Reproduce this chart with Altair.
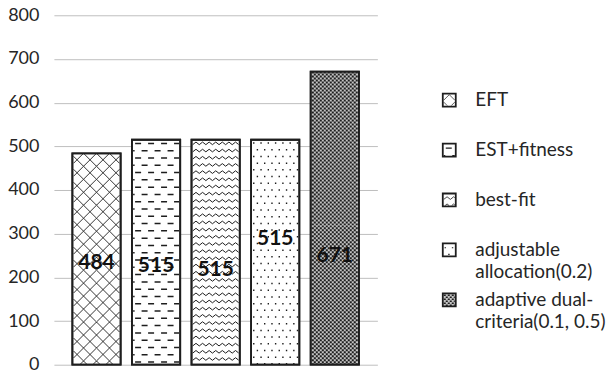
import math

import altair as alt
import pandas as pd

# ---- data -------------------------------------------------------------
CATEGORIES = [
    "EFT",
    "EST+fitness",
    "best-fit",
    "adjustable allocation(0.2)",
    "adaptive dual-criteria(0.1, 0.5)",
]
VALUES = [484, 515, 515, 515, 671]
LEGEND_TEXT = [
    "EFT",
    "EST+fitness",
    "best-fit",
    "adjustable\nallocation(0.2)",
    "adaptive dual-\ncriteria(0.1, 0.5)",
]
Y_TICKS = [0, 100, 200, 300, 400, 500, 600, 700, 800]

# ---- styling ----------------------------------------------------------
DARK = "#1e1e1e"
TEXT = "#262626"
FONT = "Lato"
Y_MAX = 800
PLOT_W, PLOT_H = 324, 350
PX = PLOT_H / Y_MAX              # pixels per data unit
TEX_W = 46                       # texture width inside a bar
LABEL_AT = [0.48, 0.44, 0.42, 0.56, 0.37]   # where each value label sits, as share of bar height
BAR_FILL = ["white", "white", "white", "white", "#c4c4c4"]


def clip_seg(x0, y0, x1, y1, w, h):
    """Liang-Barsky clipping of a segment to the box [0,w]x[0,h]."""
    dx, dy = x1 - x0, y1 - y0
    t0, t1 = 0.0, 1.0
    for p, q in ((-dx, x0), (dx, w - x0), (-dy, y0), (dy, h - y0)):
        if p == 0:
            if q < 0:
                return None
        else:
            t = q / p
            if p < 0:
                if t > t1:
                    return None
                t0 = max(t0, t)
            else:
                if t < t0:
                    return None
                t1 = min(t1, t)
    if t1 - t0 < 1e-9:
        return None
    return (x0 + t0 * dx, y0 + t0 * dy, x0 + t1 * dx, y0 + t1 * dy)


# fill patterns: each returns segments for one vertical period of the tile
def cross_segs(w, p=13.0):
    segs = []
    n = int((w + 4 * p) / p) + 2
    phase = (w / 2) % p
    for k in range(-n, n + 1):
        c = k * p + phase
        segs.append((c - p, -p, c + 2 * p, 2 * p))
        segs.append((c + p, -p, c - 2 * p, 2 * p))
    return segs


def dash_segs(w, row=7.3, period=13.0, length=6.0):
    segs = []
    for r in range(2):
        y = row * (r + 0.5)
        x = -period + r * period / 2 + 2
        while x < w + period:
            segs.append((x, y, x + length, y))
            x += period
    return segs


def wave_segs(w, h=7.2, half=3.3, amp=1.3):
    pts = []
    x, i = -half, 0
    while x < w + 2 * half:
        pts.append((x, h / 2 + (amp if i % 2 else -amp)))
        x += half
        i += 1
    return [(a[0], a[1], b[0], b[1]) for a, b in zip(pts, pts[1:])]


def dot_segs(w, row=6.7, period=7.3, d=1.4):
    segs = []
    for r in range(2):
        y = row * (r + 0.5)
        x = 1.5 + r * period / 2
        while x < w:
            segs.append((x - d / 2, y, x + d / 2, y))
            x += period
    return segs


def checker_segs(w, cell=2.0):
    segs = []
    for r in range(2):
        y = cell * (r + 0.5)
        x = r * cell
        while x < w:
            segs.append((x, y, x + cell, y))
            x += 2 * cell
    return segs


# (segment generator, vertical period in px, stroke width)
PATTERNS = [
    (cross_segs, 13.0, 0.9),
    (dash_segs, 14.6, 1.5),
    (wave_segs, 7.2, 1.0),
    (dot_segs, 13.4, 1.5),
    (checker_segs, 4.0, 2.0),
]


def glyph(pattern, w, h):
    fn, py, _ = pattern
    base = fn(w)
    segs = []
    k = 0
    while k * py < h:
        segs += [(a, b + k * py, c, d + k * py) for a, b, c, d in base]
        k += 1
    half = w / 2
    parts = []
    for s in segs:
        cs = clip_seg(*s, w, h)
        if cs is None:
            continue
        x0, y0, x1, y1 = cs
        parts.append(
            f"M{(x0 - w / 2) / half:.4f},{(y0 - h / 2) / half:.4f}"
            f"L{(x1 - w / 2) / half:.4f},{(y1 - h / 2) / half:.4f}"
        )
    return "".join(parts)


# ---- tables -----------------------------------------------------------
bars_df = pd.DataFrame({
    "category": CATEGORIES,
    "value": VALUES,
    "fill": BAR_FILL,
    "label_y": [v * f for v, f in zip(VALUES, LABEL_AT)],
})

tex_rows = []
for cat, val, pat in zip(CATEGORIES, VALUES, PATTERNS):
    _, py, sw = pat
    g = glyph(pat, TEX_W, py)
    n = math.ceil(val * PX / py) + 1
    for j in range(n):
        tex_rows.append({
            "category": cat,
            "y": val - (j + 0.5) * py / PX,
            "glyph": g,
            "sw": sw,
        })
tex_df = pd.DataFrame(tex_rows)

legend_df = pd.DataFrame({
    "category": CATEGORIES,
    "text": LEGEND_TEXT,
    "fill": BAR_FILL,
    "glyph": [glyph(p, 11, 11) for p in PATTERNS],
    "sw": [p[2] * 0.8 for p in PATTERNS],
})

# ---- bar panel --------------------------------------------------------
x_enc = alt.X(
    "category:N", sort=CATEGORIES, axis=None,
    scale=alt.Scale(paddingInner=0.19, paddingOuter=0.31),
)
y_axis = alt.Axis(
    values=Y_TICKS, title=None, ticks=False, domain=False,
    grid=True, gridColor="#bfbfbf", gridWidth=1,
    labelPadding=15, labelFont=FONT, labelFontSize=18, labelColor=TEXT,
)
y_scale = alt.Scale(domain=[0, Y_MAX])

bars = alt.Chart(bars_df).mark_bar(stroke=DARK, strokeWidth=1.8).encode(
    x=x_enc,
    y=alt.Y("value:Q", scale=y_scale, axis=y_axis),
    fill=alt.Fill("fill:N", scale=None),
)

texture = alt.Chart(tex_df).mark_point(
    filled=False, color=DARK, opacity=1, clip=True
).encode(
    x=alt.X("category:N", sort=CATEGORIES),
    y=alt.Y("y:Q", title=None),
    shape=alt.Shape("glyph:N", scale=None),
    size=alt.value(TEX_W * TEX_W),
    strokeWidth=alt.StrokeWidth("sw:Q", scale=None),
)

outline = alt.Chart(bars_df).mark_bar(
    stroke=DARK, strokeWidth=1.8, fillOpacity=0
).encode(
    x=alt.X("category:N", sort=CATEGORIES),
    y=alt.Y("value:Q", title=None),
)

labels = alt.Chart(bars_df).mark_text(
    font=FONT, fontSize=21, fontWeight="bold", color="#111111", baseline="middle"
).encode(
    x=alt.X("category:N", sort=CATEGORIES),
    y=alt.Y("label_y:Q", title=None),
    text=alt.Text("value:Q"),
)

bar_panel = alt.layer(bars, texture, outline, labels).properties(
    width=PLOT_W, height=PLOT_H
)

# ---- legend panel -----------------------------------------------------
leg_y = alt.Y(
    "category:N", sort=CATEGORIES, axis=None,
    scale=alt.Scale(type="point", range=[85, 285], padding=0),
)

leg_box = alt.Chart(legend_df).mark_point(
    shape="square", filled=True, size=169, stroke=DARK, strokeWidth=1.8, opacity=1
).encode(
    x=alt.value(52), y=leg_y, fill=alt.Fill("fill:N", scale=None),
)

leg_tex = alt.Chart(legend_df).mark_point(
    filled=False, color=DARK, opacity=1
).encode(
    x=alt.value(52), y=leg_y,
    shape=alt.Shape("glyph:N", scale=None),
    size=alt.value(121),
    strokeWidth=alt.StrokeWidth("sw:Q", scale=None),
)

leg_text = alt.Chart(legend_df).mark_text(
    align="left", baseline="alphabetic", dy=6, lineBreak="\n", lineHeight=22,
    font=FONT, fontSize=19, color=TEXT,
).encode(
    x=alt.value(78), y=leg_y, text="text:N",
)

legend_panel = alt.layer(leg_box, leg_tex, leg_text).properties(
    width=216, height=PLOT_H
)

chart = alt.hconcat(bar_panel, legend_panel, spacing=20).properties(
    padding={"left": 7, "top": 6, "right": 0, "bottom": 0},
    background="white",
).configure_view(stroke=None)

chart.save("out.html", embed_options={"renderer": "svg", "actions": False})
